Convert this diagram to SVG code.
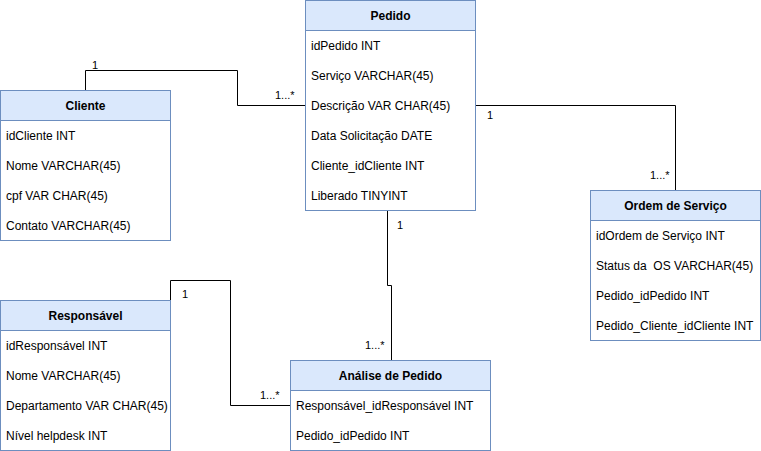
<svg xmlns="http://www.w3.org/2000/svg" width="761" height="451" viewBox="0 0 761 451">
<style>
.box{fill:#ffffff;stroke:#6c8ebf;stroke-width:1}
.hdr{fill:#dae8fc;stroke:#6c8ebf;stroke-width:1}
.t{font-family:"Liberation Sans",Arial,sans-serif;font-size:12px;fill:#000000;white-space:pre}
.h{font-family:"Liberation Sans",Arial,sans-serif;font-size:12px;font-weight:bold;fill:#000000;text-anchor:middle}
.e{fill:none;stroke:#000000;stroke-width:1}
.l{font-family:"Liberation Sans",Arial,sans-serif;font-size:11px;fill:#000000}
</style>
<rect width="761" height="451" fill="#ffffff"/>
<g id="connectors">
<path class="e" d="M85.5,90 V70.5 H237.5 V105.5 H305.5"/>
<path class="e" d="M475.5,105.5 H675.5 V190"/>
<path class="e" d="M387.5,210.5 V285.5 H391.5 V360"/>
<path class="e" d="M170.5,300 V280.5 H230.5 V405.5 H290.5"/>
<text class="l" x="92" y="69">1</text>
<text class="l" x="275" y="99">1...*</text>
<text class="l" x="487" y="119">1</text>
<text class="l" x="650" y="179">1...*</text>
<text class="l" x="397" y="229">1</text>
<text class="l" x="365" y="349">1...*</text>
<text class="l" x="182" y="298">1</text>
<text class="l" x="260" y="399">1...*</text>
</g>
<g id="pedido">
<rect class="box" x="305.5" y="0.5" width="170" height="210"/>
<rect class="hdr" x="305.5" y="0.5" width="170" height="30"/>
<text class="h" x="390.5" y="20">Pedido</text>
<text class="t" x="311" y="50">idPedido INT</text>
<text class="t" x="311" y="80">Serviço VARCHAR(45)</text>
<text class="t" x="311" y="110">Descrição VAR CHAR(45)</text>
<text class="t" x="311" y="140">Data Solicitação DATE</text>
<text class="t" x="311" y="170">Cliente_idCliente INT</text>
<text class="t" x="311" y="200">Liberado TINYINT</text>
</g>
<g id="cliente">
<rect class="box" x="0.5" y="90.5" width="170" height="150"/>
<rect class="hdr" x="0.5" y="90.5" width="170" height="30"/>
<text class="h" x="85.5" y="110">Cliente</text>
<text class="t" x="6" y="140">idCliente INT</text>
<text class="t" x="6" y="170">Nome VARCHAR(45)</text>
<text class="t" x="6" y="200">cpf VAR CHAR(45)</text>
<text class="t" x="6" y="230">Contato VARCHAR(45)</text>
</g>
<g id="ordem">
<rect class="box" x="590.5" y="190.5" width="170" height="150"/>
<rect class="hdr" x="590.5" y="190.5" width="170" height="30"/>
<text class="h" x="675.5" y="210">Ordem de Serviço</text>
<text class="t" x="596" y="240">idOrdem de Serviço INT</text>
<text class="t" x="596" y="270" xml:space="preserve">Status da  OS VARCHAR(45)</text>
<text class="t" x="596" y="300">Pedido_idPedido INT</text>
<text class="t" x="596" y="330">Pedido_Cliente_idCliente INT</text>
</g>
<g id="responsavel">
<rect class="box" x="0.5" y="300.5" width="170" height="150"/>
<rect class="hdr" x="0.5" y="300.5" width="170" height="30"/>
<text class="h" x="85.5" y="320">Responsável</text>
<text class="t" x="6" y="350">idResponsável INT</text>
<text class="t" x="6" y="380">Nome VARCHAR(45)</text>
<text class="t" x="6" y="410">Departamento VAR CHAR(45)</text>
<text class="t" x="6" y="440">Nível helpdesk INT</text>
</g>
<g id="analise">
<rect class="box" x="290.5" y="360.5" width="200" height="90"/>
<rect class="hdr" x="290.5" y="360.5" width="200" height="30"/>
<text class="h" x="390.5" y="380">Análise de Pedido</text>
<text class="t" x="296" y="410">Responsável_idResponsável INT</text>
<text class="t" x="296" y="440">Pedido_idPedido INT</text>
</g>
</svg>
